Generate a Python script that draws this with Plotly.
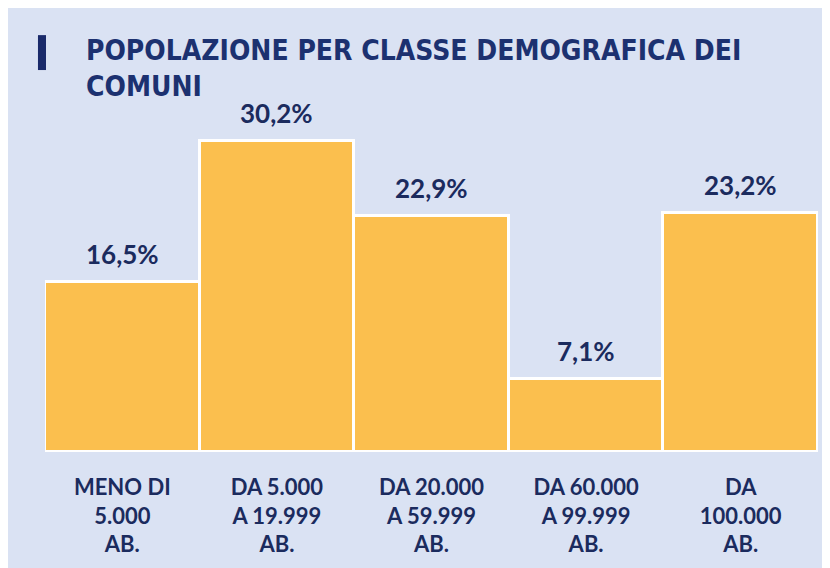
import plotly.graph_objects as go

categories = ["MENO DI<br>5.000<br>AB.", "DA 5.000<br>A 19.999<br>AB.", "DA 20.000<br>A 59.999<br>AB.",
              "DA 60.000<br>A 99.999<br>AB.", "DA<br>100.000<br>AB."]
values = [16.5, 30.2, 22.9, 7.1, 23.2]
labels = [f"{v:.1f}%".replace(".", ",") for v in values]

BG = "#dae2f3"
BAR = "#fbbf4e"
NAVY = "#1b2b5e"
TITLE = "#1c3170"

fig = go.Figure()
fig.add_trace(go.Bar(
    x=categories, y=values,
    marker=dict(color=BAR, line=dict(color="white", width=3)),
    hoverinfo="skip",
))

for c, v, t in zip(categories, values, labels):
    fig.add_annotation(x=c, y=v, text=t, showarrow=False, yanchor="bottom", yshift=10,
                       font=dict(family="Lato, sans-serif", size=26, color=NAVY, weight="bold"))

fig.add_annotation(xref="paper", yref="paper", x=0, y=1.168, xanchor="left", yanchor="top",
                   xshift=39, align="left", showarrow=False,
                   text="POPOLAZIONE PER CLASSE DEMOGRAFICA DEI<br>COMUNI",
                   font=dict(family="DejaVu Sans Condensed, DejaVu Sans, sans-serif", size=28,
                             color=TITLE, weight="bold"))

fig.update_layout(
    shapes=[
        dict(type="rect", xref="paper", yref="paper", x0=-0.0091, x1=0.0013, y0=1.158, y1=1.061,
             fillcolor="#1a2a6a", line=dict(width=0), layer="above"),
    ]
)

fig.update_layout(
    width=830, height=568,
    paper_bgcolor=BG, plot_bgcolor=BG,
    margin=dict(l=37, r=20, t=84, b=124),
    bargap=0,
    showlegend=False,
    xaxis=dict(showgrid=False, zeroline=False, showline=False, ticks="",
               tickfont=dict(family="Lato, sans-serif", size=22, color=NAVY, weight="bold"),
               ticklabelstandoff=20, fixedrange=True),
    yaxis=dict(range=[0, 35], visible=False, fixedrange=True),
)

fig.write_html("out.html")
